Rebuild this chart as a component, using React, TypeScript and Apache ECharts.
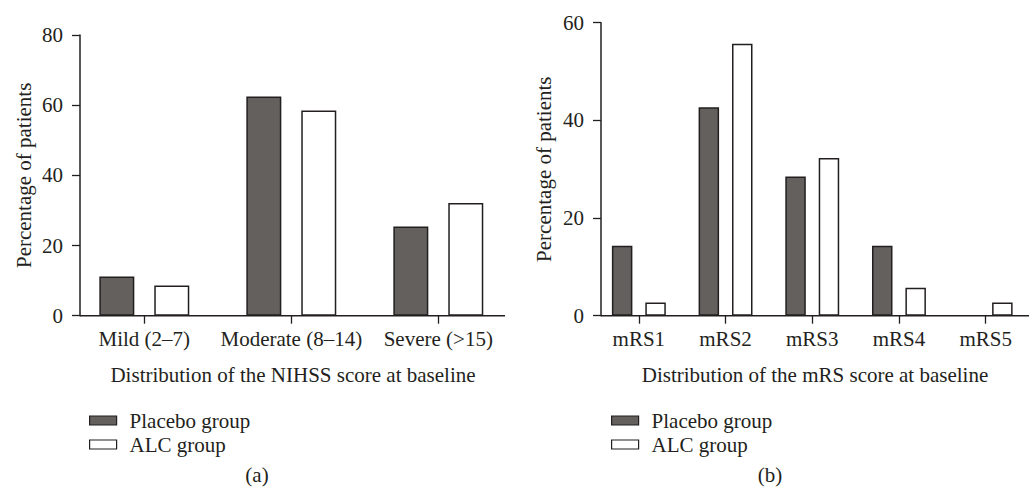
import React, { useEffect, useRef } from "react";
import * as echarts from "echarts";

const nihssCategories = ["Mild (2–7)", "Moderate (8–14)", "Severe (>15)"];
const nihssPlacebo = [11.2, 62.5, 25.4];
const nihssAlc = [8.6, 58.5, 32.1];
const nihssTicks = { min: 0, max: 80, interval: 20 };

const mrsCategories = ["mRS1", "mRS2", "mRS3", "mRS4", "mRS5"];
const mrsPlacebo = [14.3, 42.7, 28.5, 14.3, 0];
const mrsAlc = [2.7, 55.7, 32.3, 5.7, 2.7];
const mrsTicks = { min: 0, max: 60, interval: 20 };

const seriesNames = ["Placebo group", "ALC group"];
const xTitles = [
  "Distribution of the NIHSS score at baseline",
  "Distribution of the mRS score at baseline",
];
const panelLabels = ["(a)", "(b)"];
const yTitle = "Percentage of patients";

const FONT = "'Liberation Serif', 'DejaVu Serif', serif";
const INK = "#231f20";
const DARK = "#63605e";
const FS = 21;

export default function App() {
  const ref = useRef<HTMLDivElement>(null);
  useEffect(() => {
    document.body.style.margin = "0";
    if (!ref.current) return;
    const chart = echarts.init(ref.current, undefined, { renderer: "svg" });

    const catAxis = (gridIndex: number, data: string[]) => ({
      type: "category",
      gridIndex,
      data,
      boundaryGap: true,
      axisLine: { show: false },
      axisTick: {
        show: true,
        alignWithLabel: true,
        length: 8,
        lineStyle: { color: INK, width: 1.3 },
      },
      axisLabel: {
        color: INK,
        fontFamily: FONT,
        fontSize: FS,
        margin: 13,
        interval: 0,
        hideOverlap: false,
      },
    });

    const valAxis = (gridIndex: number, t: any, offset: number, nameGap: number) => ({
      type: "value",
      gridIndex,
      min: t.min,
      max: t.max,
      interval: t.interval,
      offset,
      name: yTitle,
      nameLocation: "middle",
      nameGap,
      nameRotate: 90,
      nameTextStyle: { color: INK, fontFamily: FONT, fontSize: FS },
      splitLine: { show: false },
      axisLine: { show: true, lineStyle: { color: INK, width: 1.5 } },
      axisTick: { show: true, length: 8, lineStyle: { color: INK, width: 1.3 } },
      axisLabel: { color: INK, fontFamily: FONT, fontSize: FS, margin: 17 },
    });

    const barSeries = (
      name: string,
      data: number[],
      axisIndex: number,
      color: string,
      barWidth: number,
      barGap: string
    ) => ({
      type: "bar",
      name,
      data: data.map((v) => (v === 0 ? null : v)),
      xAxisIndex: axisIndex,
      yAxisIndex: axisIndex,
      barWidth,
      barGap,
      itemStyle: { color, borderColor: INK, borderWidth: 1.5 },
      emphasis: { disabled: true },
    });

    const legend = (left: number) => ({
      orient: "vertical",
      left,
      top: 405,
      itemWidth: 27,
      itemHeight: 9,
      itemGap: 3,
      icon: "rect",
      data: seriesNames,
      selectedMode: false,
      textStyle: {
        color: INK,
        fontFamily: FONT,
        fontSize: FS,
        lineHeight: 20,
        padding: [0, 0, 0, 8],
      },
      itemStyle: { borderColor: INK, borderWidth: 1.2 },
    });

    const textEl = (text: string, x: number, y: number) => ({
      type: "text",
      x,
      y,
      style: {
        text,
        fill: INK,
        font: `${FS}px ${FONT}`,
        textAlign: "center",
        textVerticalAlign: "middle",
      },
      silent: true,
    });

    const option: any = {
      animation: false,
      backgroundColor: "#ffffff",
      grid: [
        { left: 70.8, top: 35, width: 441, height: 280.7 },
        { left: 595.5, top: 22.7, width: 450, height: 293 },
      ],
      xAxis: [catAxis(0, nihssCategories), catAxis(1, mrsCategories)],
      yAxis: [valAxis(0, nihssTicks, -9.2, 46), valAxis(1, mrsTicks, -5.5, 47)],
      legend: [legend(84), legend(606)],
      series: [
        barSeries(seriesNames[0], nihssPlacebo, 0, DARK, 35, "57%"),
        barSeries(seriesNames[1], nihssAlc, 0, "#ffffff", 35, "57%"),
        barSeries(seriesNames[0], mrsPlacebo, 1, DARK, 20.5, "63%"),
        barSeries(seriesNames[1], mrsAlc, 1, "#ffffff", 20.5, "63%"),
      ],
      graphic: [
        {
          type: "line",
          shape: { x1: 80, y1: 315.7, x2: 505, y2: 315.7 },
          style: { stroke: INK, lineWidth: 1.5 },
          silent: true,
        },
        {
          type: "line",
          shape: { x1: 601, y1: 315.7, x2: 1029, y2: 315.7 },
          style: { stroke: INK, lineWidth: 1.5 },
          silent: true,
        },
        textEl(xTitles[0], 293, 375),
        textEl(xTitles[1], 815, 375),
        textEl(panelLabels[0], 257, 475),
        textEl(panelLabels[1], 770, 475),
      ],
    };
    chart.setOption(option);
    return () => chart.dispose();
  }, []);
  return <div ref={ref} style={{ width: 1029, height: 488 }} />;
}
